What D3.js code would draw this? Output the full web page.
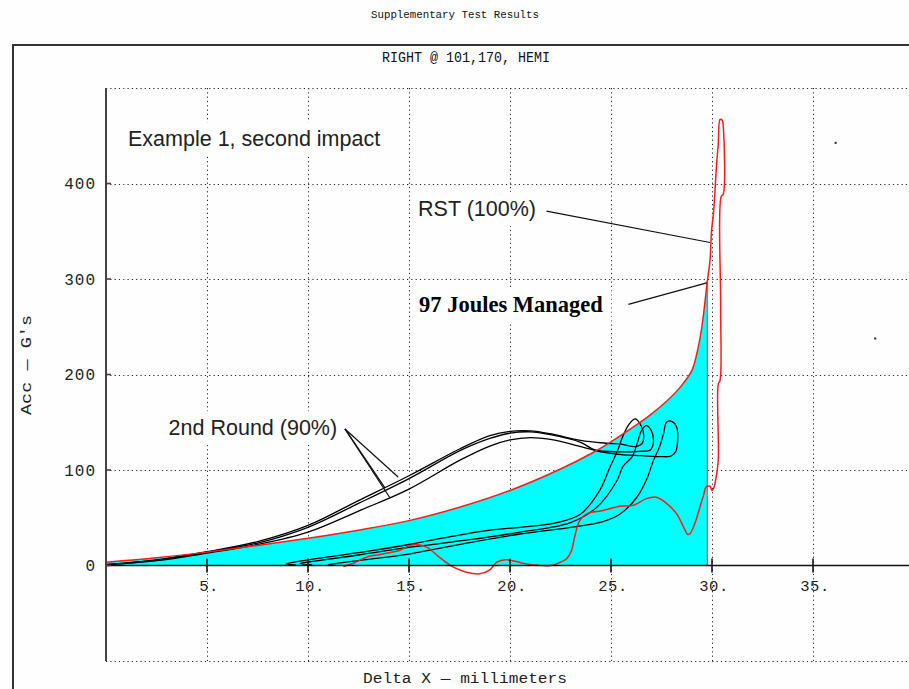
<!DOCTYPE html>
<html><head><meta charset="utf-8">
<script src="https://cdn.jsdelivr.net/npm/d3@7/dist/d3.min.js"></script>
<style>
html,body{margin:0;padding:0;background:#fff;}
svg{display:block;}
</style></head>
<body>
<svg id="c" width="909" height="689"></svg>
<script>
// ---------- data ----------
const chartTitle = "Supplementary Test Results";
const plotTitle = "RIGHT @ 101,170, HEMI";
const xTitle = "Delta X \u2014 millimeters";
const yTitle = "Acc \u2014 G's";

const xTicks = [5, 10, 15, 20, 25, 30, 35];
const xTickLabels = ["5.", "10.", "15.", "20.", "25.", "30.", "35."];
const yTicks = [0, 100, 200, 300, 400];
const yTickLabels = ["0", "100", "200", "300", "400"];
const xGrid = [5, 10, 15, 20, 25, 30, 35, 40];
const yGrid = [-100, 100, 200, 300, 400, 500];

// RST (100%) trace: loading part (filled underneath), then rebound part
const rstLoading = [[0,3.5],[2.5,8],[5,14],[7.5,21],[10,28.5],[12.5,37],[15,47],[17.5,61],[20,78.5],[22.5,101],[24,117],[25,129.5],[26,143.5],[26.9,157],[27.75,172],[28.4,186],[29,204],[29.25,222],[29.5,250],[29.77,298]];
const rstRebound = [[29.77,298],[29.9,319],[29.98,351],[30.07,368],[30.15,393],[30.23,421],[30.31,441],[30.4,467],[30.51,466],[30.56,459],[30.56,389],[30.45,386],[30.43,270],[30.4,194],[30.31,190],[30.31,110],[30.2,92],[30.1,82],[30.0,78.5],[29.9,83],[29.7,82],[29.6,75],[29.4,61],[29.15,44],[28.9,33],[28.8,32.5],[28.6,40],[28.25,54],[27.75,65],[27.25,71.5],[26.75,70],[26.1,63],[25.45,62],[24.6,57.6],[23.8,54],[23.45,47],[23.2,30],[23.05,16],[22.8,7],[22.3,1.7],[22.0,0],[20.8,1.7],[20.15,5],[19.8,6],[19.35,3.5],[19.0,-4.5],[18.5,-8.7],[17.85,-7],[17.2,-1.7],[16.5,8.7],[15.9,19],[15.4,22],[15.05,21],[14.55,16],[13.7,12],[12.9,8.7],[12.25,2.4],[11.75,-1]];

// 2nd Round (90%) traces
const round2A = [[0,1],[2.5,6],[5,14.5],[7.5,25],[10,42],[12.5,68],[15,94],[17.5,122],[19,136],[20,140.5],[21,141],[22,138],[23.5,131],[24.8,128],[25.5,127],[26.2,124.5],[26.55,128],[26.62,136],[26.5,146],[26.2,153.5],[25.9,148],[25.6,136],[25.3,119],[24.95,103],[24.45,79],[23.5,54],[22.15,44],[20.5,40],[19,37],[17,30],[15,22],[13,15],[11,9],[9.6,4.5],[8.9,1.5],[9.4,0.5]];
const round2B = [[0,1],[2.5,5.5],[5,14],[7.5,23.5],[10,40],[12.5,65],[15,91],[17.5,120],[19,133],[20,138.5],[21,140],[22,137],[23.5,129],[24.2,121],[25.4,119],[26.4,119.5],[26.95,121],[27.1,129],[27.0,141],[26.75,146.5],[26.5,141],[26.3,128],[26.05,114],[25.6,104],[25.3,89],[24.3,61],[23,45],[20.5,35],[18,27],[15,19],[12.5,11],[10.5,5],[9.6,2],[10.2,0.5]];
const round2C = [[0,0.5],[2.5,5],[5,13],[7.5,22],[10,35],[12.5,57],[15,80],[17.5,110],[19,125],[20,131.5],[21,134],[22,132],[23.6,124],[24.5,119],[25.5,116],[26.5,115],[27.5,114],[27.95,114.5],[28.2,119],[28.3,131],[28.25,145],[28.0,151],[27.75,150],[27.6,138],[27.4,124],[27.1,110],[26.8,92],[26.3,72],[25.45,54],[24.6,46],[23,40],[20.5,33],[18,24],[15,12],[13,6.5],[11.5,2.5],[11,1]];

const strayDots = [[36.12,442.6],[38.08,237.7]];

// annotations (anchor in data units)
const annotations = [
  {text: "Example 1, second impact", x: 1.09, y: 439, kind: "plain"},
  {text: "RST (100%)", x: 15.45, y: 366, kind: "plain"},
  {text: "97 Joules Managed", x: 15.5, y: 265.5, kind: "bold"},
  {text: "2nd Round (90%)", x: 3.1, y: 136.5, kind: "plain"}
];
const pointers = [
  [[21.81,371],[29.9,338.2]],
  [[25.86,273.5],[29.74,296]],
  [[11.83,143],[14.46,92.7]],
  [[11.83,143],[13.81,81.2]],
  [[11.83,143],[14.06,70.7]]
];

// ---------- drawing ----------
const W = 909, H = 689;
const svg = d3.select("#c");
const x = d3.scaleLinear().domain([0, 40]).range([106, 914]);
const y = d3.scaleLinear().domain([-100, 500]).range([661, 88]);
const pL = 106, pR = W, pT = y(500), pB = y(-100);

svg.append("rect").attr("width", W).attr("height", H).attr("fill", "#fefefe");

// outer frame
svg.append("path")
  .attr("d", `M13,${H+2} L13,45 L${W+2},45`)
  .attr("fill", "none").attr("stroke", "#333").attr("stroke-width", 2);

const mono = "'Liberation Mono', 'DejaVu Sans Mono', monospace";
svg.append("text").text(chartTitle)
  .attr("x", 455).attr("y", 18).attr("text-anchor", "middle")
  .attr("font-family", mono).attr("font-size", 11.5).attr("fill", "#111")
  .attr("textLength", 168).attr("lengthAdjust", "spacingAndGlyphs");
svg.append("text").text(plotTitle)
  .attr("x", 466).attr("y", 62).attr("text-anchor", "middle")
  .attr("font-family", mono).attr("font-size", 15).attr("fill", "#111")
  .attr("textLength", 168).attr("lengthAdjust", "spacingAndGlyphs");

svg.append("defs").append("clipPath").attr("id", "clip")
  .append("rect").attr("x", pL).attr("y", pT - 2).attr("width", pR - pL).attr("height", pB - pT + 4);

// grid
const grid = svg.append("g").attr("stroke", "#222").attr("stroke-width", 1).attr("stroke-dasharray", "1.2,3.1");
grid.selectAll(".gx").data(xGrid).join("line")
  .attr("x1", d => Math.round(x(d)) + 0.5).attr("x2", d => Math.round(x(d)) + 0.5)
  .attr("y1", pT).attr("y2", pB);
grid.selectAll(".gy").data(yGrid).join("line")
  .attr("y1", d => Math.round(y(d)) + 0.5).attr("y2", d => Math.round(y(d)) + 0.5)
  .attr("x1", pL).attr("x2", pR);

// annotation text with white boxes
const annG = svg.append("g");
annotations.forEach(a => {
  const t = annG.append("text").text(a.text)
    .attr("x", x(a.x)).attr("y", y(a.y))
    .attr("fill", a.kind === "bold" ? "#000" : "#222")
    .attr("font-family", a.kind === "bold" ? "'Liberation Serif', 'Times New Roman', serif" : "'Liberation Sans', Arial, sans-serif")
    .attr("font-weight", a.kind === "bold" ? "bold" : "normal")
    .attr("font-size", a.kind === "bold" ? 22.5 : 21.5);
  const b = t.node().getBBox();
  annG.insert("rect", "text")
    .attr("x", b.x - 8).attr("y", b.y - 5).attr("width", b.width + 16).attr("height", b.height + 10)
    .attr("fill", "#fefefe");
});

const plot = svg.append("g").attr("clip-path", "url(#clip)");

// cyan filled area under loading curve
const crv = d3.curveCatmullRom.alpha(0.5);
const area = d3.area().x(d => x(d[0])).y0(y(0)).y1(d => y(d[1])).curve(crv);
plot.append("path").datum(rstLoading).attr("d", area).attr("fill", "#00ffff");
plot.append("line")
  .attr("x1", x(29.77)).attr("x2", x(29.77)).attr("y1", y(0)).attr("y2", y(298))
  .attr("stroke", "#888").attr("stroke-width", 1.5);

// axes
svg.append("line").attr("x1", pL).attr("x2", pL).attr("y1", pT).attr("y2", pB)
  .attr("stroke", "#444").attr("stroke-width", 2);
svg.append("line").attr("x1", pL).attr("x2", pR).attr("y1", y(0)).attr("y2", y(0))
  .attr("stroke", "#111").attr("stroke-width", 1.6);
svg.append("g").selectAll("line").data(xTicks).join("line")
  .attr("x1", d => x(d)).attr("x2", d => x(d)).attr("y1", y(0) - 7).attr("y2", y(0) + 7)
  .attr("stroke", "#111").attr("stroke-width", 1.6);
svg.append("g").selectAll("line").data(yTicks).join("line")
  .attr("x1", pL).attr("x2", pL + 5).attr("y1", d => y(d)).attr("y2", d => y(d))
  .attr("stroke", "#444").attr("stroke-width", 1.6);

svg.append("g").selectAll("text").data(xTicks).join("text")
  .text((d, i) => xTickLabels[i])
  .attr("x", d => x(d) + 2).attr("y", y(0) + 25).attr("text-anchor", "middle")
  .attr("font-family", mono).attr("font-size", 15.5).attr("letter-spacing", 0.5).attr("fill", "#222");
svg.append("g").selectAll("text").data(yTicks).join("text")
  .text((d, i) => yTickLabels[i])
  .attr("x", 96).attr("y", d => y(d) + 5.5).attr("text-anchor", "end")
  .attr("font-family", mono).attr("font-size", 16).attr("letter-spacing", 1).attr("fill", "#222");

svg.append("text").text(xTitle)
  .attr("x", 465).attr("y", 683).attr("text-anchor", "middle")
  .attr("font-family", mono).attr("font-size", 15.5).attr("fill", "#222")
  .attr("textLength", 204).attr("lengthAdjust", "spacingAndGlyphs");
svg.append("text").text(yTitle)
  .attr("transform", "translate(31,365) rotate(-90)").attr("text-anchor", "middle")
  .attr("font-family", mono).attr("font-size", 15.5).attr("fill", "#222")
  .attr("textLength", 100).attr("lengthAdjust", "spacingAndGlyphs");

// traces
const line = d3.line().x(d => x(d[0])).y(d => y(d[1])).curve(crv);
[round2A, round2B, round2C].forEach(tr => {
  plot.append("path").datum(tr).attr("d", line)
    .attr("fill", "none").attr("stroke", "#000").attr("stroke-width", 1.3);
});
plot.append("path").datum(rstLoading.concat(rstRebound.slice(1))).attr("d", line)
  .attr("fill", "none").attr("stroke", "#ff1a1a").attr("stroke-width", 1.5);

plot.selectAll(".dot").data(strayDots).join("rect")
  .attr("x", d => x(d[0]) - 1).attr("y", d => y(d[1]) - 1).attr("width", 2).attr("height", 2).attr("fill", "#222");

// pointer lines
const pl = d3.line().x(d => x(d[0])).y(d => y(d[1]));
svg.append("g").selectAll("path").data(pointers).join("path")
  .attr("d", pl).attr("fill", "none").attr("stroke", "#111").attr("stroke-width", 1.2);
</script>
</body></html>
